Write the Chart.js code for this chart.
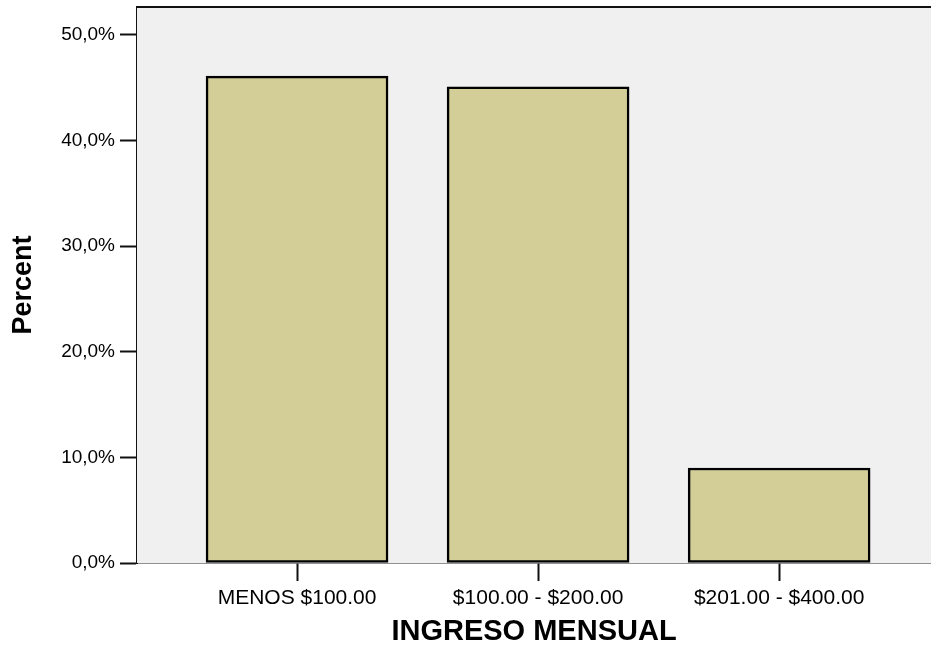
<!DOCTYPE html>
<html>
<head>
<meta charset="utf-8">
<script src="https://cdn.jsdelivr.net/npm/chart.js@4.4.1/dist/chart.umd.min.js"></script>
<style>
  html, body { margin: 0; padding: 0; background: #fff; }
  #wrap { width: 931px; height: 655px; }
</style>
</head>
<body>
<div id="wrap"><canvas id="myChart"></canvas></div>
<script>
// categories and values
var categories = ["MENOS $100.00", "$100.00 - $200.00", "$201.00 - $400.00"];
var percents = [46.1, 45.1, 9.0];
var yTicks = [0, 10, 20, 30, 40, 50];

var font = "'Liberation Sans', Arial, sans-serif";

// grey plot background plus the top frame line
var plotFrame = {
  id: "plotFrame",
  beforeDatasetsDraw: function (chart) {
    var a = chart.chartArea, c = chart.ctx;
    c.save();
    c.fillStyle = "#f0f0f0";
    c.fillRect(a.left, a.top, a.right - a.left, a.bottom - a.top);
    c.strokeStyle = "#111";
    c.lineWidth = 2;
    c.beginPath();
    c.moveTo(a.left, a.top);
    c.lineTo(a.right, a.top);
    c.stroke();
    c.restore();
  }
};

var ctx = document.getElementById("myChart").getContext("2d");
var chart = new Chart(ctx, {
  type: "bar",
  data: {
    datasets: [
      {
        label: "Percent",
        data: percents.map(function (v, i) { return { x: i, y: v }; }),
        backgroundColor: "rgb(211, 206, 151)",
        borderColor: "#000",
        borderWidth: 2.5,
        borderSkipped: false,
        barThickness: 182
      }
    ]
  },
  plugins: [plotFrame],
  options: {
    responsive: true,
    maintainAspectRatio: false,
    animation: false,
    layout: { padding: { top: 7, right: 0, left: 0, bottom: 0 } },
    plugins: { legend: { display: false }, tooltip: { enabled: false } },
    scales: {
      x: {
        type: "linear",
        offset: false,
        min: -0.664,
        max: 2.63,
        afterFit: function (s) {
          s.height = 92;
          s.paddingLeft = 0;
          s.paddingRight = 0;
        },
        afterBuildTicks: function (s) {
          s.ticks = categories.map(function (c, i) { return { value: i }; });
        },
        grid: {
          offset: false,
          drawOnChartArea: false,
          drawTicks: true,
          tickLength: 18,
          tickWidth: 2,
          tickColor: "#111"
        },
        border: { display: true, color: "#222", width: 1.5 },
        ticks: {
          padding: 5,
          color: "#000",
          font: { family: font, size: 21 },
          maxRotation: 0,
          autoSkip: false,
          callback: function (v) { return categories[v]; }
        },
        title: {
          display: true,
          text: "INGRESO MENSUAL",
          color: "#000",
          font: { family: font, size: 29, weight: "bold" },
          padding: { top: 0, bottom: 6 }
        }
      },
      y: {
        min: 0,
        max: 52.65,
        afterFit: function (s) {
          s.width = 137;
          s.paddingTop = 0;
          s.paddingBottom = 0;
        },
        afterBuildTicks: function (s) {
          s.ticks = yTicks.map(function (v) { return { value: v }; });
        },
        grid: {
          drawOnChartArea: false,
          drawTicks: true,
          tickLength: 17,
          tickWidth: 2,
          tickColor: "#111"
        },
        border: { display: true, color: "#111", width: 2 },
        ticks: {
          padding: 5,
          color: "#000",
          font: { family: font, size: 19 },
          callback: function (v) { return v.toFixed(1).replace(".", ",") + "%"; }
        },
        title: {
          display: true,
          text: "Percent",
          color: "#000",
          font: { family: font, size: 27, weight: "bold" },
          padding: { top: 7, bottom: 0 }
        }
      }
    }
  }
});
</script>
</body>
</html>
